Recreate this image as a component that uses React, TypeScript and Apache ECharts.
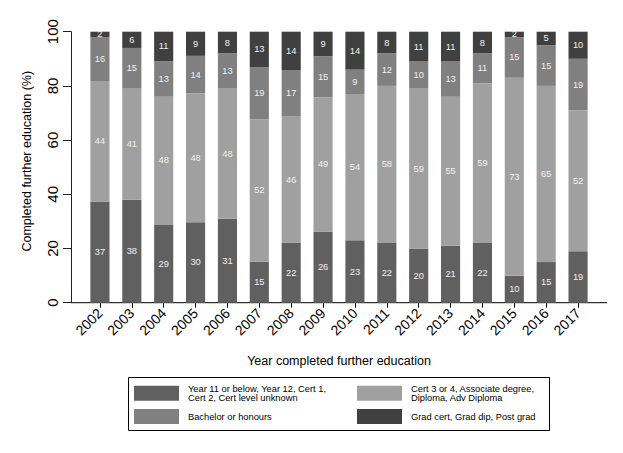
import React, { useEffect, useRef } from "react";
import * as echarts from "echarts";

const years = ["2002","2003","2004","2005","2006","2007","2008","2009","2010","2011","2012","2013","2014","2015","2016","2017"];
const lowerCert = [37,38,29,30,31,15,22,26,23,22,20,21,22,10,15,19];
const cert34Diploma = [44,41,48,48,48,52,46,49,54,58,59,55,59,73,65,52];
const bachelor = [16,15,13,14,13,19,17,15,9,12,10,13,11,15,15,19];
const gradCert = [2,6,11,9,8,13,14,9,14,8,11,11,8,2,5,10];
const yTicks = [0, 20, 40, 60, 80, 100];

const seriesNames = [
  "Year 11 or below, Year 12, Cert 1,\nCert 2, Cert level unknown",
  "Cert 3 or 4, Associate degree,\nDiploma, Adv Diploma",
  "Bachelor or honours",
  "Grad cert, Grad dip, Post grad",
];
const seriesColors = ["#606060", "#a0a0a0", "#808080", "#404040"];

const FONT = "'Liberation Sans', Arial, Helvetica, sans-serif";

export default function App() {
  const ref = useRef<HTMLDivElement>(null);
  useEffect(() => {
    document.body.style.margin = "0";
    if (!ref.current) return;
    const chart = echarts.init(ref.current, undefined, { renderer: "svg" });
    const raw = [lowerCert, cert34Diploma, bachelor, gradCert];
    const totals = years.map((_, i) => raw.reduce((s, a) => s + a[i], 0));
    const series = raw.map((arr, k) => ({
      name: seriesNames[k],
      type: "bar",
      stack: "total",
      barWidth: "60%",
      itemStyle: { color: seriesColors[k] },
      label: {
        show: true,
        position: "inside",
        color: "#f2f2f2",
        fontSize: 9.3,
        fontFamily: FONT,
        formatter: (p: any) => String(arr[p.dataIndex]),
      },
      data: arr.map((v, i) => (v / totals[i]) * 100),
    }));
    const legendPos = [
      { left: 134, top: 384.5 },
      { left: 357, top: 384.5 },
      { left: 134, top: 409 },
      { left: 357, top: 409 },
    ];
    const legends = seriesNames.map((n, k) => ({
      show: true,
      left: legendPos[k].left,
      top: legendPos[k].top,
      padding: 0,
      itemWidth: 45,
      itemHeight: 15,
      icon: "rect",
      selectedMode: false,
      data: [{ name: n, itemStyle: { color: seriesColors[k] } }],
      textStyle: {
        fontSize: 9.3,
        lineHeight: 8.5,
        color: "#000",
        fontFamily: FONT,
        padding: [0, 0, 0, 4],
      },
    }));
    chart.setOption({
      animation: false,
      backgroundColor: "#fff",
      textStyle: { fontFamily: FONT },
      grid: { left: 84, right: 29, top: 31.7, bottom: 150.3, containLabel: false },
      legend: legends,
      xAxis: {
        type: "category",
        data: years,
        axisLine: { show: false },
        axisTick: { show: true, length: 5, alignWithLabel: true, lineStyle: { color: "#000", width: 1 } },
        axisLabel: { rotate: 45, fontSize: 14, margin: 8, color: "#000", fontFamily: FONT, interval: 0 },
        name: "Year completed further education",
        nameLocation: "middle",
        nameGap: 52,
        nameTextStyle: { fontSize: 12.5, color: "#000", fontFamily: FONT },
      },
      yAxis: {
        type: "value",
        min: 0,
        max: 100,
        interval: 20,
        offset: 13,
        splitLine: { show: false },
        axisLine: { show: true, lineStyle: { color: "#222", width: 1 } },
        axisTick: { show: true, length: 8, lineStyle: { color: "#222", width: 1 } },
        axisLabel: {
          rotate: 90,
          fontSize: 15,
          margin: 11,
          color: "#000",
          fontFamily: FONT,
          formatter: (v: number) => (yTicks.includes(v) ? String(v) : ""),
        },
        name: "Completed further education (%)",
        nameLocation: "middle",
        nameGap: 38,
        nameTextStyle: { fontSize: 12.5, color: "#000", fontFamily: FONT, padding: [0, 0, 0, 12] },
      },
      graphic: [
        {
          type: "line",
          shape: { x1: 71, y1: 302.7, x2: 607, y2: 302.7 },
          style: { stroke: "#000", lineWidth: 1 },
          silent: true,
        },
        {
          type: "rect",
          shape: { x: 128.5, y: 377.5, width: 421, height: 53 },
          style: { stroke: "#000", lineWidth: 1, fill: "none" },
          silent: true,
        },
      ],
      series,
    });
    return () => chart.dispose();
  }, []);
  return <div ref={ref} style={{ width: 623, height: 453 }} />;
}
